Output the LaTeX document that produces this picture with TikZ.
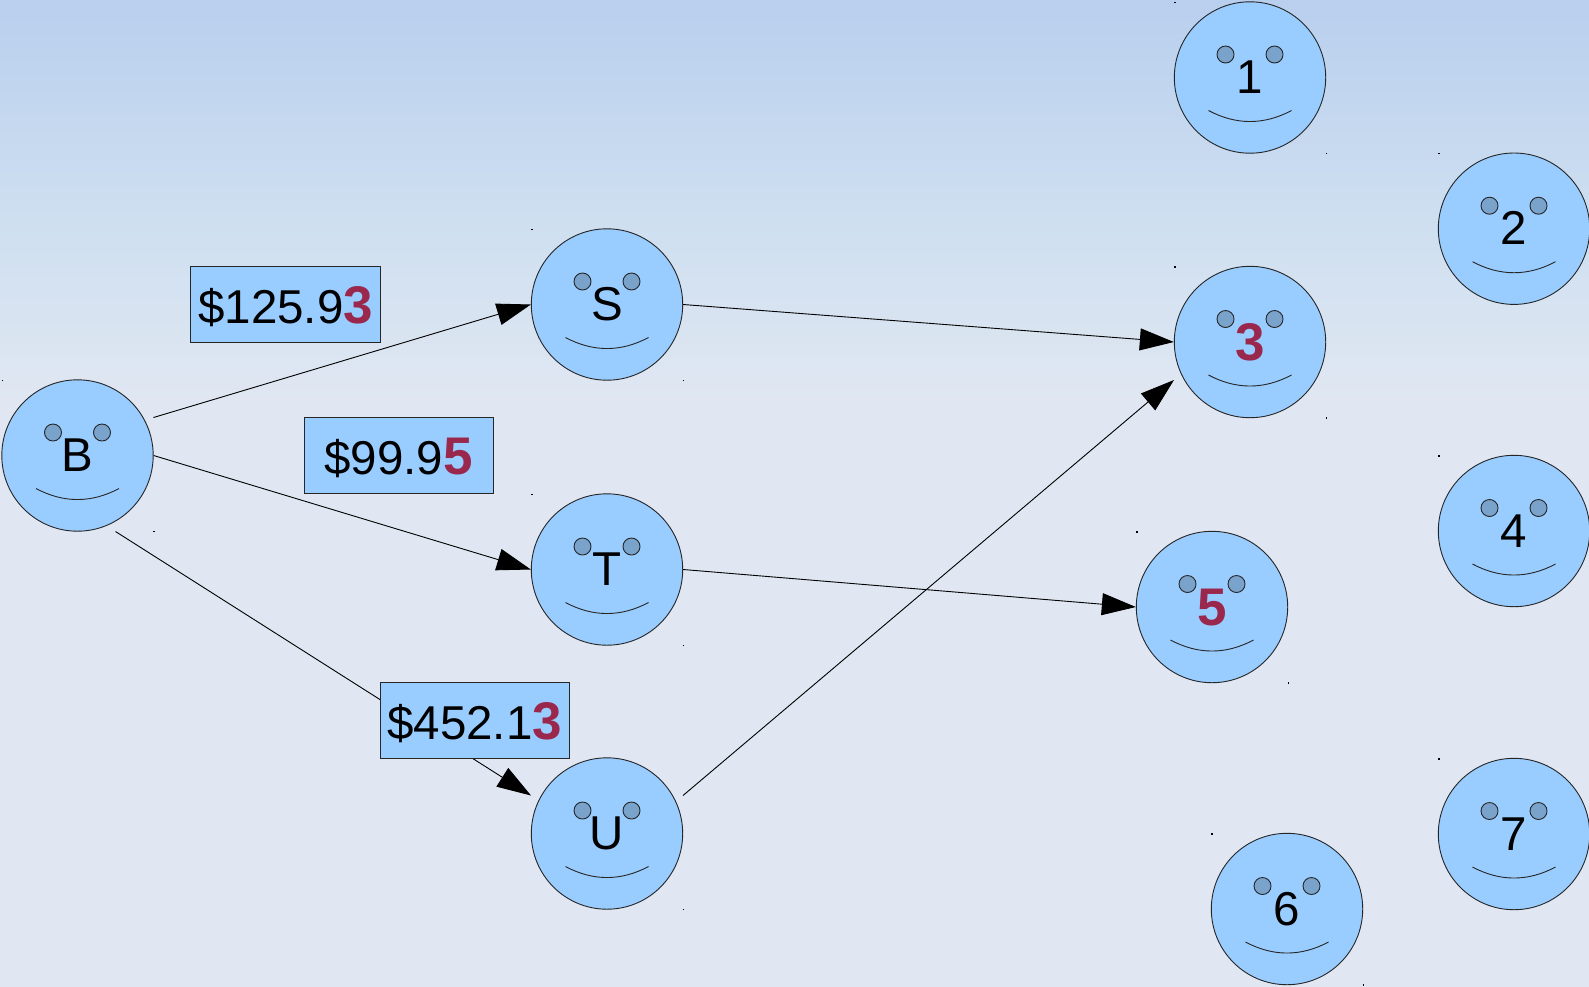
\documentclass[tikz,border=0pt]{standalone}
\usepackage{fontspec}
\setmainfont{Liberation Sans}
\usetikzlibrary{arrows.meta}
\definecolor{facefill}{HTML}{99CCFF}
\definecolor{eyefill}{HTML}{7AA3CC}
\definecolor{accent}{HTML}{99284C}
\definecolor{bgtop}{HTML}{B9CFEE}
\definecolor{bgmid}{HTML}{CEDFF0}
\definecolor{bgend}{HTML}{E0E7F2}
\pgfdeclareverticalshading{bgshade}{100bp}{color(0bp)=(bgend); color(54.7bp)=(bgend); color(63.84bp)=(bgmid); color(75bp)=(bgtop); color(100bp)=(bgtop)}
\tikzset{
  facenode/.style={circle,draw=black!85,line width=.9pt,fill=facefill,minimum size=151.4pt,inner sep=0pt,
    font=\fontsize{47.5}{50}\selectfont,text height=32pt,text depth=0pt},
  eyeshape/.style={draw=black!85,line width=.9pt,fill=eyefill},
  smileline/.style={draw=black!85,line width=.9pt},
  pricebox/.style={rectangle,draw=black!85,line width=.9pt,fill=facefill,minimum width=189.4pt,minimum height=76pt,inner sep=0pt,
    font=\fontsize{47.5}{50}\selectfont,text height=37.4pt,text depth=0pt},
  conn/.style={draw=black,line width=.9pt,-{Triangle[length=34pt,width=22pt]}},
  speck/.style={fill=black,draw=none}
}
\newcommand{\hl}[1]{{\fontsize{53}{53}\selectfont\bfseries\textcolor{accent}{#1}}}
\newcommand{\face}[4]{%
  \node[facenode] (#1) at (#2,#3) {#4};
  \coordinate (#1-ne) at (#2+76,#3-38);
  \coordinate (#1-sw) at (#2-76,#3+38);
  \coordinate (#1-nw) at (#2-76,#3-38);
  \coordinate (#1-sr) at (#2+38,#3+76);
  \path[eyeshape] (#2-24.5,#3-23) circle (8.5);
  \path[eyeshape] (#2+24.5,#3-23) circle (8.5);
  \path[smileline] (#2-41.5,#3+33) .. controls (#2-14,#3+47.7) and (#2+14,#3+47.7) .. (#2+41.5,#3+33);
  \fill[speck] (#2-76,#3-76) rectangle ++(1.5,1.5);
  \fill[speck] (#2+75.7,#3+75.2) rectangle ++(1.5,1.5);
}
\begin{document}
\begin{tikzpicture}[x=1pt,y=-1pt]
\useasboundingbox (0,0) rectangle (1589,986);
\shade[shading=bgshade] (0,0) rectangle (1589,986);
\face{B}{77.5}{455.5}{B}
\face{S}{607}{304.5}{S}
\face{T}{607}{569.5}{T}
\face{U}{607}{833.5}{U}
\face{n1}{1250}{77.5}{1}
\face{n2}{1514}{228.7}{2}
\face{n3}{1250}{342}{\raisebox{-2.5pt}{\hl{3}}}
\face{n4}{1514}{531}{4}
\face{n5}{1212}{607}{\raisebox{-2.5pt}{\hl{5}}}
\face{n6}{1287}{909}{6}
\face{n7}{1514}{834}{7}
\draw[conn] (B-ne) -- (S.west);
\draw[conn] (B.east) -- (T.west);
\draw[conn] (B-sr) -- (U-nw);
\draw[conn] (S.east) -- (n3.west);
\draw[conn] (T.east) -- (n5.west);
\draw[conn] (U-ne) -- (n3-sw);
\node[pricebox] (p1) at (285.6,304.5) {\$125.9\hl{3}};
\node[pricebox] (p2) at (398.7,455.5) {\$99.9\hl{5}};
\node[pricebox] (p3) at (474.7,720.3) {\$452.1\hl{3}};
\end{tikzpicture}
\end{document}
